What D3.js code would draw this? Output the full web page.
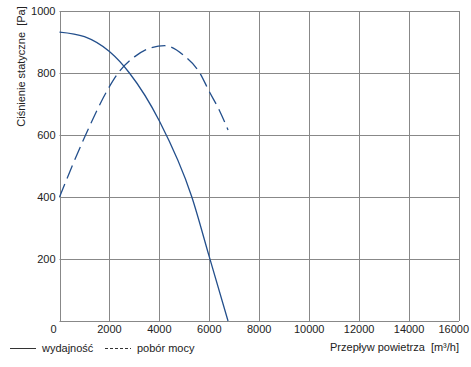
<!DOCTYPE html>
<html>
<head>
<meta charset="utf-8">
<script src="https://cdn.jsdelivr.net/npm/d3@7"></script>
<style>
  body { margin: 0; background: #fff; }
  svg text { font-family: "Liberation Sans", Arial, sans-serif; fill: #222; }
</style>
</head>
<body>
<div id="chart"></div>
<script>
const xTicks = [0, 2000, 4000, 6000, 8000, 10000, 12000, 14000, 16000];
const yTicks = [0, 200, 400, 600, 800, 1000];

// wydajność (solid)
const flowSolid = [0, 1000, 2000, 2800, 4000, 5300, 6000, 6750];
const pressSolid = [932, 917, 869, 800, 645, 400, 207, 0];

// pobór mocy (dashed)
const flowDashed = [0, 1000, 2000, 2350, 3000, 3620, 4220, 5000, 5620, 6000, 6400, 6750];
const pressDashed = [400, 592, 756, 800, 852, 880, 888, 855, 800, 740, 680, 616];

const width = 471, height = 367;
const margin = { left: 59.5, right: 12, top: 11, bottom: 46 };

const svg = d3.select('#chart')
    .append('svg')
    .attr('width', width)
    .attr('height', height);

const x = d3.scaleLinear()
    .domain([0, 16000])
    .range([margin.left, width - margin.right]);

const y = d3.scaleLinear()
    .domain([0, 1000])
    .range([height - margin.bottom, margin.top]);

const gridColor = '#888';
const lineColor = '#234f8c';

// grid
svg.append('g')
    .selectAll('line')
    .data(xTicks)
    .join('line')
    .attr('x1', d => Math.round(x(d)) + 0.5)
    .attr('x2', d => Math.round(x(d)) + 0.5)
    .attr('y1', y(0))
    .attr('y2', y(1000))
    .attr('stroke', gridColor);

svg.append('g')
    .selectAll('line')
    .data(yTicks)
    .join('line')
    .attr('x1', x(0))
    .attr('x2', x(16000))
    .attr('y1', d => Math.round(y(d)) + 0.5)
    .attr('y2', d => Math.round(y(d)) + 0.5)
    .attr('stroke', gridColor);

// tick labels (the shared "0" is drawn once, by the x axis)
svg.append('g')
    .selectAll('text')
    .data(yTicks.filter(d => d > 0))
    .join('text')
    .attr('x', x(0) - 4)
    .attr('y', d => y(d) + 4)
    .attr('text-anchor', 'end')
    .attr('font-size', 11)
    .text(d => d);

svg.append('g')
    .selectAll('text')
    .data(xTicks)
    .join('text')
    .attr('x', d => d === 0 ? x(d) - 6 : x(d))
    .attr('y', y(0) + 12)
    .attr('text-anchor', (d, i) => i === xTicks.length - 1 ? 'end' : 'middle')
    .attr('dx', (d, i) => i === xTicks.length - 1 ? 10 : 0)
    .attr('font-size', 11)
    .text(d => d);

// axis titles
svg.append('text')
    .attr('transform', `translate(25,${(5 + 128) / 2}) rotate(-90)`)
    .attr('text-anchor', 'middle')
    .attr('font-size', 11)
    .attr('xml:space', 'preserve')
    .text('Ciśnienie statyczne  [Pa]');

svg.append('text')
    .attr('x', 459)
    .attr('y', 351)
    .attr('text-anchor', 'end')
    .attr('font-size', 11)
    .attr('xml:space', 'preserve')
    .text('Przepływ powietrza  [m³/h]');

// curves
const line = d3.line()
    .x(d => x(d[0]))
    .y(d => y(d[1]))
    .curve(d3.curveMonotoneX);

svg.append('path')
    .datum(d3.zip(flowSolid, pressSolid))
    .attr('d', line)
    .attr('fill', 'none')
    .attr('stroke', lineColor)
    .attr('stroke-width', 1.3);

svg.append('path')
    .datum(d3.zip(flowDashed, pressDashed))
    .attr('d', line)
    .attr('fill', 'none')
    .attr('stroke', lineColor)
    .attr('stroke-width', 1.3)
    .attr('stroke-dasharray', '14,6');

// legend
const legend = svg.append('g');
legend.append('line')
    .attr('x1', 10).attr('x2', 36)
    .attr('y1', 348.5).attr('y2', 348.5)
    .attr('stroke', '#333');
legend.append('text')
    .attr('x', 42).attr('y', 352)
    .attr('font-size', 11)
    .text('wydajność');
legend.append('line')
    .attr('x1', 105).attr('x2', 131)
    .attr('y1', 348.5).attr('y2', 348.5)
    .attr('stroke', '#333')
    .attr('stroke-dasharray', '3,2');
legend.append('text')
    .attr('x', 137).attr('y', 352)
    .attr('font-size', 11)
    .text('pobór mocy');
</script>
</body>
</html>
